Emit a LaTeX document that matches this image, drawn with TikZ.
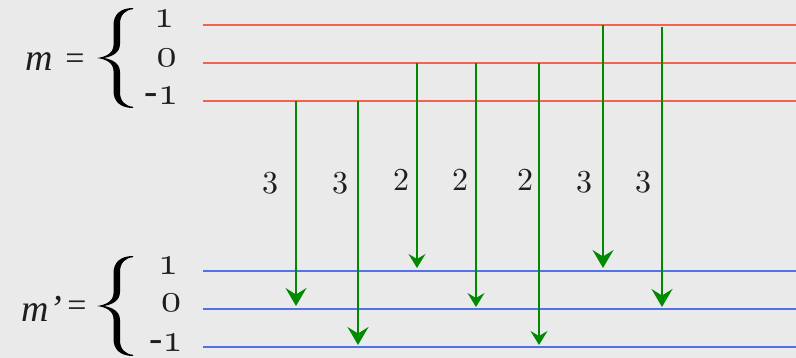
\documentclass[tikz,border=0pt]{standalone}
\usepackage{fontspec}
\usepackage{graphicx}
\setmainfont{Liberation Serif}
\newfontfamily\lmr{lmroman10-regular.otf}
\usetikzlibrary{arrows.meta}
\definecolor{bgc}{HTML}{EAEAEA}
\definecolor{redc}{HTML}{F26450}
\definecolor{bluec}{HTML}{5272EC}
\definecolor{greenc}{HTML}{008A00}
\definecolor{inkc}{HTML}{1E1E1E}
\newcommand\osn[1]{{\usefont{OML}{cmm}{m}{it}#1}}
\tikzset{
  lvlA/.style={draw=redc, line width=1.3pt},
  lvlB/.style={draw=bluec, line width=1.3pt},
  transbig/.style={draw=greenc, line width=2pt, -{Stealth[length=18pt,width=21pt,inset=6.5pt]}},
  transsmall/.style={draw=greenc, line width=1.5pt, -{Stealth[length=14pt,width=17pt,inset=5pt]}},
  lbl/.style={font=\lmr\fontsize{32}{32}\selectfont, inner sep=0pt, text=inkc},
  lvlnum/.style={font=\fontsize{10}{12}\selectfont, inner sep=0pt, text=inkc},
  mlabel/.style={font=\fontsize{38}{38}\selectfont\itshape, inner sep=0pt, text=inkc},
  eqs/.style={font=\fontsize{34}{34}\selectfont, inner sep=0pt, text=inkc},
  bracefill/.style={fill=black},
}
\begin{document}
\begin{tikzpicture}[x=1pt,y=-1pt]
\fill[bgc] (0,0) rectangle (796,358);
\useasboundingbox (0,0) rectangle (796,358);
% braces
\foreach \dy in {0, 248} {
\begin{scope}[shift={(0,\dy)}]
\fill[bracefill] (133,8) .. controls (121,8) and (113.5,14) .. (113.5,25)
  -- (113.5,45) .. controls (113.5,53) and (106,57) .. (97,58)
  .. controls (106,59) and (113.5,63) .. (113.5,71)
  -- (113.5,91) .. controls (113.5,102) and (121,108) .. (133,108)
  -- (133,106.8) .. controls (125,106) and (120,101) .. (120,92)
  -- (120,72) .. controls (120,64) and (113,59.5) .. (104,58)
  .. controls (113,56.5) and (120,52) .. (120,44)
  -- (120,24) .. controls (120,15) and (125,10) .. (133,9.2) -- cycle;
\end{scope}
}
\coordinate (br1) at (116,58);
\coordinate (br2) at (116,306);
% left labels
\node[mlabel] (m) at (39,61.5) {m};
\node[eqs] (eq1) at (75,61.5) {=};
\node[lvlnum] (t1) at (164,19) {\scalebox{4}{\osn{1}}};
\node[lvlnum] (t0) at (166.5,58) {\scalebox{4}{\osn{0}}};
\node[lvlnum] (tm) at (161.5,96) {\scalebox{4}{-\osn{1}}};
\node[mlabel] (mp) at (42,309) {m’};
\node[eqs] (eq2) at (77,309) {=};
\node[lvlnum] (b1) at (168,266) {\scalebox{4}{\osn{1}}};
\node[lvlnum] (b0) at (171,303) {\scalebox{4}{\osn{0}}};
\node[lvlnum] (bm) at (166,343) {\scalebox{4}{-\osn{1}}};
% level lines
\coordinate (ra1) at (203,25);  \coordinate (rb1) at (796,25);
\coordinate (ra0) at (203,63);  \coordinate (rb0) at (796,63);
\coordinate (ram) at (203,101); \coordinate (rbm) at (796,101);
\coordinate (ba1) at (203,271); \coordinate (bb1) at (796,271);
\coordinate (ba0) at (203,309); \coordinate (bb0) at (796,309);
\coordinate (bam) at (203,347); \coordinate (bbm) at (796,347);
\draw[lvlA] (ra1) -- (rb1);
\draw[lvlA] (ra0) -- (rb0);
\draw[lvlA] (ram) -- (rbm);
\draw[lvlB] (ba1) -- (bb1);
\draw[lvlB] (ba0) -- (bb0);
\draw[lvlB] (bam) -- (bbm);
% transitions
\coordinate (s1) at (296,101); \coordinate (e1) at (296,306);
\coordinate (s2) at (358,101); \coordinate (e2) at (358,345);
\coordinate (s3) at (417,63);  \coordinate (e3) at (417,268);
\coordinate (s4) at (476,63);  \coordinate (e4) at (476,307);
\coordinate (s5) at (539,63);  \coordinate (e5) at (539,345);
\coordinate (s6) at (603,25);  \coordinate (e6) at (603,268);
\coordinate (s7) at (662,27);  \coordinate (e7) at (662,307);
\draw[transbig] (s1) -- (e1);
\draw[transbig] (s2) -- (e2);
\draw[transsmall] (s3) -- (e3);
\draw[transsmall] (s4) -- (e4);
\draw[transsmall] (s5) -- (e5);
\draw[transbig] (s6) -- (e6);
\draw[transbig] (s7) -- (e7);
% weights
\node[lbl] (w1) at (270,183.5) {3};
\node[lbl] (w2) at (340,183.5) {3};
\node[lbl] (w3) at (401,180) {2};
\node[lbl] (w4) at (460,180) {2};
\node[lbl] (w5) at (525,180) {2};
\node[lbl] (w6) at (584,182.5) {3};
\node[lbl] (w7) at (643,182.5) {3};
\end{tikzpicture}
\end{document}
